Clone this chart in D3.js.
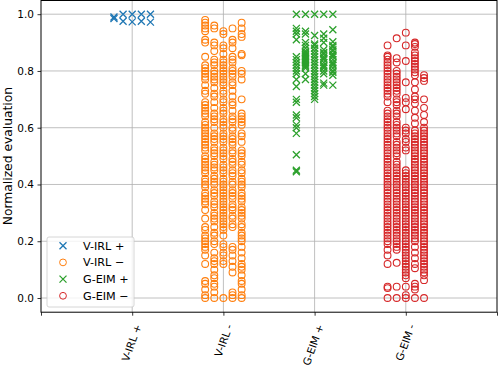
<!DOCTYPE html>
<meta charset="utf-8" />
<html>
<head>
    <script src="https://d3js.org/d3.v7.min.js"></script>
    <style>
        body { margin: 0; background: white; }
        text { font-family: "DejaVu Sans", sans-serif; font-size: 10.5px; fill: black; }
    </style>
</head>
<body>
<svg width="498" height="368"></svg>
<script>
    // Categories and tick labels
    var categories = ["V-IRL +", "V-IRL -", "G-EIM +", "G-EIM -"];
    var legendLabels = ["V-IRL +", "V-IRL \u2212", "G-EIM +", "G-EIM \u2212"];
    var yTicks = [0.0, 0.2, 0.4, 0.6, 0.8, 1.0];
    // each category is drawn as 5 jittered columns
    var colOffsets = [-0.2, -0.1, 0, 0.1, 0.2];

    // Values per column
    var virlPos = [
        [0.99, 0.985],
        [1.0, 0.975],
        [1.0, 0.973],
        [1.0, 0.975],
        [1.0, 0.972]
    ];
    var virlNeg = [
        [0.98,0.97,0.96,0.95,0.94,0.91,0.90,0.85,0.82,0.81,0.80,0.79,0.78,0.77,0.75,0.73,0.72,0.69,0.68,0.67,0.66,0.65,0.64,0.62,0.61,0.60,0.59,0.58,0.57,0.56,0.55,0.54,0.53,0.52,0.50,0.49,0.48,0.47,0.46,0.45,0.44,0.42,0.41,0.40,0.39,0.37,0.36,0.35,0.34,0.33,0.31,0.28,0.25,0.24,0.22,0.21,0.20,0.19,0.18,0.17,0.15,0.12,0.06,0.05,0.03,0.01,0.0],
        [0.96,0.95,0.90,0.89,0.87,0.84,0.83,0.82,0.80,0.79,0.78,0.77,0.76,0.74,0.72,0.71,0.69,0.67,0.65,0.64,0.63,0.62,0.60,0.58,0.57,0.56,0.55,0.53,0.52,0.51,0.50,0.48,0.47,0.46,0.45,0.43,0.42,0.41,0.40,0.38,0.37,0.36,0.34,0.33,0.32,0.30,0.29,0.28,0.27,0.25,0.23,0.22,0.20,0.19,0.16,0.14,0.13,0.12,0.10,0.08,0.07,0.05,0.04,0.02,0.0],
        [0.94,0.93,0.89,0.88,0.86,0.84,0.83,0.82,0.81,0.80,0.79,0.78,0.77,0.76,0.75,0.73,0.72,0.70,0.69,0.67,0.66,0.65,0.63,0.62,0.61,0.60,0.58,0.57,0.56,0.55,0.53,0.52,0.51,0.50,0.49,0.47,0.46,0.45,0.44,0.42,0.41,0.40,0.39,0.38,0.37,0.36,0.35,0.34,0.33,0.32,0.31,0.30,0.29,0.28,0.27,0.26,0.25,0.24,0.22,0.19,0.18,0.16,0.15,0.13,0.12,0.0],
        [0.95,0.91,0.90,0.88,0.85,0.84,0.83,0.81,0.80,0.79,0.78,0.76,0.75,0.73,0.71,0.69,0.68,0.66,0.64,0.63,0.62,0.60,0.59,0.57,0.56,0.55,0.54,0.52,0.51,0.49,0.48,0.47,0.45,0.44,0.43,0.41,0.40,0.38,0.37,0.36,0.35,0.33,0.32,0.31,0.29,0.28,0.26,0.25,0.18,0.17,0.15,0.13,0.11,0.09,0.02,0.01,0.0],
        [0.97,0.95,0.93,0.92,0.86,0.855,0.80,0.79,0.77,0.70,0.65,0.64,0.63,0.62,0.61,0.58,0.57,0.55,0.52,0.51,0.50,0.48,0.47,0.45,0.44,0.42,0.41,0.40,0.39,0.37,0.36,0.35,0.34,0.32,0.31,0.30,0.29,0.28,0.26,0.25,0.23,0.22,0.21,0.20,0.18,0.16,0.14,0.12,0.11,0.10,0.08,0.06,0.05,0.03,0.01,0.0]
    ];
    var geimPos = [
        [1.0,0.95,0.94,0.93,0.91,0.85,0.84,0.83,0.82,0.81,0.80,0.79,0.77,0.745,0.70,0.69,0.645,0.635,0.61,0.60,0.58,0.505,0.45,0.445],
        [1.0,0.94,0.93,0.90,0.89,0.88,0.87,0.865,0.86,0.855,0.85,0.845,0.84,0.835,0.83,0.825,0.82,0.815,0.81,0.79,0.77],
        [1.0,0.925,0.895,0.89,0.88,0.87,0.86,0.85,0.84,0.83,0.82,0.81,0.80,0.79,0.78,0.77,0.76,0.75,0.74,0.73,0.72,0.71,0.70],
        [1.0,0.93,0.915,0.90,0.875,0.865,0.86,0.85,0.845,0.84,0.83,0.82,0.815,0.81,0.80,0.79,0.757,0.75],
        [1.0,0.945,0.903,0.89,0.885,0.875,0.87,0.86,0.855,0.85,0.84,0.83,0.825,0.82,0.81,0.80,0.795,0.785,0.75]
    ];
    var geimNeg = [
        [0.89,0.855,0.85,0.84,0.83,0.82,0.81,0.80,0.79,0.78,0.77,0.76,0.75,0.74,0.73,0.72,0.71,0.69,0.66,0.65,0.64,0.63,0.62,0.61,0.60,0.59,0.58,0.57,0.56,0.55,0.54,0.53,0.52,0.51,0.50,0.49,0.48,0.47,0.46,0.45,0.44,0.43,0.42,0.41,0.40,0.39,0.38,0.37,0.36,0.35,0.34,0.33,0.32,0.31,0.30,0.29,0.28,0.27,0.26,0.25,0.24,0.23,0.22,0.21,0.20,0.19,0.17,0.15,0.12,0.04,0.035,0.0],
        [0.915,0.845,0.83,0.80,0.79,0.78,0.77,0.76,0.75,0.74,0.73,0.72,0.70,0.69,0.68,0.66,0.65,0.64,0.62,0.61,0.60,0.59,0.58,0.57,0.55,0.54,0.53,0.52,0.51,0.50,0.48,0.47,0.46,0.45,0.44,0.43,0.42,0.41,0.40,0.39,0.38,0.37,0.36,0.35,0.34,0.33,0.32,0.31,0.30,0.29,0.28,0.27,0.26,0.25,0.24,0.23,0.22,0.21,0.20,0.19,0.18,0.17,0.124,0.04,0.0],
        [0.935,0.89,0.835,0.76,0.705,0.69,0.665,0.60,0.59,0.58,0.56,0.55,0.53,0.52,0.45,0.44,0.43,0.42,0.41,0.40,0.39,0.38,0.37,0.36,0.35,0.34,0.33,0.32,0.31,0.30,0.29,0.28,0.27,0.26,0.25,0.24,0.23,0.22,0.21,0.20,0.19,0.18,0.17,0.16,0.15,0.14,0.13,0.12,0.11,0.10,0.09,0.08,0.07,0.04,0.01,0.0],
        [0.90,0.895,0.885,0.865,0.855,0.845,0.835,0.825,0.815,0.805,0.795,0.785,0.76,0.735,0.71,0.70,0.685,0.66,0.635,0.615,0.59,0.58,0.57,0.56,0.55,0.54,0.53,0.52,0.51,0.50,0.49,0.48,0.47,0.46,0.45,0.44,0.43,0.42,0.41,0.40,0.39,0.38,0.37,0.36,0.35,0.34,0.33,0.32,0.31,0.30,0.29,0.28,0.27,0.26,0.25,0.24,0.23,0.22,0.21,0.20,0.18,0.16,0.14,0.12,0.105,0.05,0.04,0.03,0.0],
        [0.785,0.775,0.765,0.70,0.67,0.645,0.62,0.60,0.59,0.58,0.57,0.56,0.55,0.54,0.53,0.52,0.51,0.50,0.49,0.48,0.47,0.46,0.45,0.44,0.43,0.42,0.41,0.40,0.39,0.38,0.37,0.36,0.35,0.34,0.33,0.32,0.31,0.30,0.29,0.28,0.27,0.26,0.25,0.24,0.23,0.22,0.21,0.20,0.19,0.18,0.17,0.16,0.15,0.14,0.13,0.12,0.11,0.10,0.09,0.08,0.063,0.0]
    ];

    var seriesData = [virlPos, virlNeg, geimPos, geimNeg];
    var seriesColors = ["#1f77b4", "#ff7f0e", "#2ca02c", "#d62728"];
    var seriesMarkers = ["x", "o", "x", "o"];

    var svg = d3.select("svg");
    var x = d3.scaleLinear().domain([-1, 4]).range([41, 497]);
    var y = d3.scaleLinear().domain([-0.05, 1.05]).range([312.2, 0]);

    // grid
    var grid = svg.append("g").attr("stroke", "#b0b0b0").attr("stroke-width", 0.8);
    grid.selectAll(".hgrid").data(yTicks).enter().append("line")
        .attr("x1", x(-1)).attr("x2", x(4))
        .attr("y1", function(d) { return y(d); }).attr("y2", function(d) { return y(d); });
    grid.selectAll(".vgrid").data(categories).enter().append("line")
        .attr("y1", y(-0.05)).attr("y2", y(1.05))
        .attr("x1", function(d, i) { return x(i); }).attr("x2", function(d, i) { return x(i); });

    // points
    var crossPath = "M-3.5,-3.5L3.5,3.5M-3.5,3.5L3.5,-3.5";
    seriesData.forEach(function(cols, si) {
        var pts = [];
        cols.forEach(function(vals, ci) {
            vals.forEach(function(v) { pts.push({x: si + colOffsets[ci], v: v}); });
        });
        var g = svg.append("g").attr("stroke", seriesColors[si]).attr("fill", "none");
        if (seriesMarkers[si] == "x") {
            g.selectAll("path").data(pts).enter().append("path")
                .attr("d", crossPath).attr("stroke-width", 1.3)
                .attr("transform", function(d) { return "translate(" + x(d.x) + "," + y(d.v) + ")"; });
        } else {
            g.selectAll("circle").data(pts).enter().append("circle")
                .attr("r", 3.4).attr("stroke-width", 1.1)
                .attr("cx", function(d) { return x(d.x); })
                .attr("cy", function(d) { return y(d.v); });
        }
    });

    // axes
    var yAxis = svg.append("g").attr("transform", "translate(" + x(-1) + ",0)")
        .call(d3.axisLeft(y).tickValues(yTicks).tickFormat(d3.format(".1f")).tickSize(3.5).tickPadding(3.5));
    yAxis.select(".domain").remove();

    var xAxis = svg.append("g").attr("transform", "translate(0," + y(-0.05) + ")")
        .call(d3.axisBottom(x).tickValues([-1, 0, 1, 2, 3, 4]).tickFormat("").tickSize(3.5));
    xAxis.select(".domain").remove();
    svg.selectAll(".tick line").attr("stroke", "black").attr("stroke-width", 0.8);
    yAxis.selectAll("text").style("font-size", "10.5px").style("font-family", "DejaVu Sans").attr("fill", "black");

    svg.selectAll(".xlabel").data(categories).enter().append("text")
        .attr("text-anchor", "end")
        .attr("dy", "0.35em")
        .attr("transform", function(d, i) { return "translate(" + (x(i) + 6) + "," + (y(-0.05) + 12.5) + ") rotate(-70)"; })
        .text(function(d) { return d; });

    // frame
    svg.append("rect")
        .attr("x", x(-1)).attr("y", 0.5)
        .attr("width", x(4) - x(-1)).attr("height", y(-0.05) - 0.5)
        .attr("fill", "none").attr("stroke", "black").attr("stroke-width", 1);

    svg.append("text")
        .attr("transform", "translate(8," + (y(-0.05) / 2) + ") rotate(-90)")
        .attr("text-anchor", "middle")
        .attr("dy", "0.35em")
        .style("font-size", "12.3px")
        .text("Normalized evaluation");

    // legend
    var legend = svg.append("g").attr("transform", "translate(47,237)");
    legend.append("rect").attr("width", 87).attr("height", 70).attr("rx", 2)
        .attr("fill", "white").attr("fill-opacity", 0.8).attr("stroke", "#cccccc").attr("stroke-width", 0.8);
    legendLabels.forEach(function(lbl, i) {
        var ly = 8.7 + i * 16.7;
        if (seriesMarkers[i] == "x") {
            legend.append("path").attr("d", crossPath).attr("stroke", seriesColors[i]).attr("stroke-width", 1.3)
                .attr("transform", "translate(16," + ly + ")");
        } else {
            legend.append("circle").attr("cx", 16).attr("cy", ly).attr("r", 3.4)
                .attr("fill", "none").attr("stroke", seriesColors[i]);
        }
        legend.append("text").attr("x", 36).attr("y", ly).attr("dy", "0.35em")
            .style("font-size", "11.2px").text(lbl);
    });
</script>
</body>
</html>
